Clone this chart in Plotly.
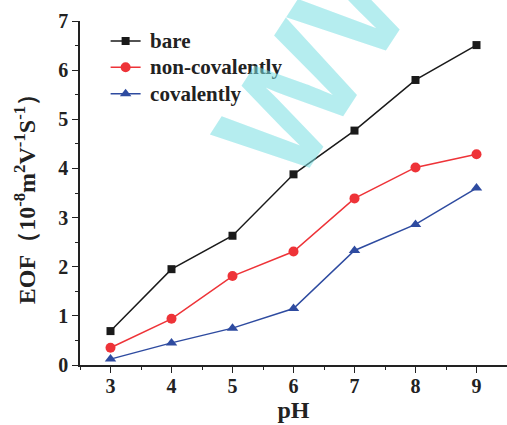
import plotly.graph_objects as go

ph = [3, 4, 5, 6, 7, 8, 9]
bare = [0.69, 1.95, 2.63, 3.88, 4.77, 5.80, 6.51]
non_cov = [0.35, 0.94, 1.81, 2.31, 3.39, 4.02, 4.29]
cov = [0.12, 0.45, 0.75, 1.15, 2.33, 2.86, 3.60]
x_ticks = [3, 4, 5, 6, 7, 8, 9]
y_ticks = [0, 1, 2, 3, 4, 5, 6, 7]

FONT = "Liberation Serif"


def leg(name):
    return f'\u00a0<span style="font-size:21px"><b>{name}</b></span>'


fig = go.Figure()
fig.add_trace(go.Scatter(x=ph, y=bare, mode="lines+markers", name=leg("bare"),
                         line=dict(color="#1a1a1a", width=1.5),
                         marker=dict(symbol="square", size=8, color="#1a1a1a")))
fig.add_trace(go.Scatter(x=ph, y=non_cov, mode="lines+markers", name=leg("non-covalently"),
                         line=dict(color="#ee3338", width=1.5),
                         marker=dict(symbol="circle", size=10, color="#ee3338")))
fig.add_trace(go.Scatter(x=ph, y=cov, mode="lines+markers", name=leg("covalently"),
                         line=dict(color="#2e4ba0", width=1.5),
                         marker=dict(symbol="triangle-up", size=10, color="#2e4ba0")))

fig.add_annotation(text="<b>WWW</b>", xref="paper", yref="paper", x=0.67, y=1.10,
                   xanchor="center", yanchor="middle",
                   showarrow=False, textangle=-57,
                   font=dict(family="Liberation Sans", size=148, color="rgba(120,222,226,0.55)"))

axis_common = dict(showline=True, linecolor="#222", linewidth=1.5, ticks="outside",
                   ticklen=6, tickwidth=1.3, tickcolor="#222", showgrid=False, zeroline=False,
                   tickfont=dict(family=FONT, size=20, color="#222"),
                   minor=dict(ticks="outside", ticklen=3, tickwidth=1.2, tickcolor="#222", dtick=0.5))

fig.update_xaxes(range=[2.5, 9.5], tickvals=x_ticks, ticktext=[f"<b>{v}</b>" for v in x_ticks],
                 ticklabelstandoff=-4,
                 title=dict(text="<b>pH</b>", font=dict(family=FONT, size=24, color="#222"), standoff=4),
                 **axis_common)
fig.update_yaxes(range=[0, 7], tickvals=y_ticks, ticktext=[f"<b>{v}</b>" for v in y_ticks],
                 title=dict(text="<b>EOF（10<sup>-8</sup>m<sup>2</sup>V<sup>-1</sup>S<sup>-1</sup>）</b>",
                            font=dict(family=FONT, size=24, color="#222"), standoff=16),
                 **axis_common)

fig.update_layout(
    width=507, height=425,
    margin=dict(l=80, r=0, t=21, b=60),
    plot_bgcolor="white", paper_bgcolor="white",
    legend=dict(x=0.06, y=0.995, xanchor="left", yanchor="top", bgcolor="rgba(0,0,0,0)",
                font=dict(family=FONT, size=18, color="#222"), tracegroupgap=0, itemwidth=30),
    showlegend=True,
)

fig.write_html("out.html")
